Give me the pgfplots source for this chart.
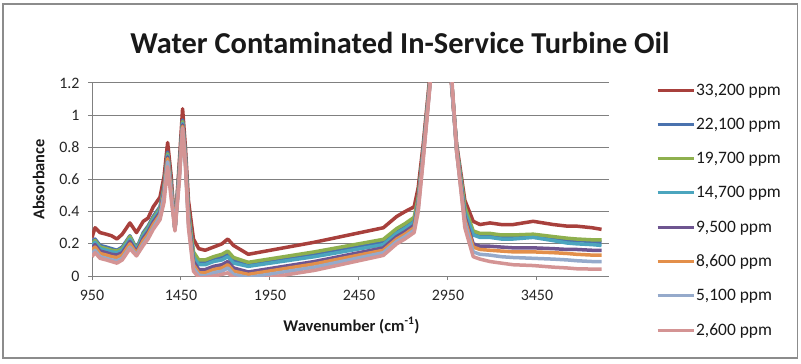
\documentclass[border=0pt]{standalone}
\usepackage{pgfplots}
\pgfplotsset{compat=1.18}
\usepackage{pgfplotstable}
\usepackage{fontspec}
\setmainfont{Carlito}
\definecolor{cR}{HTML}{A8403C}
\definecolor{cB}{HTML}{4A72AE}
\definecolor{cG}{HTML}{8EB04E}
\definecolor{cT}{HTML}{4BA5BE}
\definecolor{cP}{HTML}{6E5590}
\definecolor{cO}{HTML}{E38F4A}
\definecolor{cL}{HTML}{95AACB}
\definecolor{cK}{HTML}{D49494}
\definecolor{frame}{HTML}{8C8C8C}
\pgfplotstableread{
w r b g t p o l k
950 0.24 0.21 0.20 0.19 0.175 0.16 0.14 0.12
967 0.30 0.23 0.22 0.21 0.195 0.18 0.16 0.145
995 0.27 0.19 0.18 0.17 0.155 0.14 0.12 0.11
1030 0.26 0.18 0.17 0.16 0.145 0.13 0.11 0.10
1060 0.25 0.17 0.16 0.15 0.135 0.12 0.10 0.09
1090 0.23 0.16 0.155 0.145 0.13 0.115 0.095 0.08
1120 0.26 0.18 0.17 0.16 0.145 0.13 0.11 0.10
1163 0.33 0.25 0.245 0.23 0.215 0.20 0.18 0.17
1200 0.27 0.17 0.165 0.16 0.15 0.14 0.13 0.125
1238 0.34 0.27 0.26 0.25 0.235 0.22 0.20 0.19
1265 0.36 0.31 0.30 0.29 0.275 0.26 0.24 0.23
1294 0.43 0.37 0.36 0.35 0.335 0.32 0.30 0.29
1332 0.49 0.43 0.42 0.41 0.395 0.38 0.37 0.35
1355 0.62 0.56 0.55 0.54 0.53 0.52 0.50 0.46
1375 0.83 0.77 0.76 0.75 0.74 0.73 0.71 0.68
1395 0.62 0.57 0.56 0.55 0.54 0.53 0.51 0.48
1416 0.29 0.29 0.29 0.29 0.29 0.29 0.285 0.28
1440 0.70 0.66 0.65 0.64 0.63 0.62 0.60 0.58
1459 1.04 0.97 0.96 0.95 0.94 0.93 0.92 0.92
1475 0.80 0.75 0.74 0.73 0.72 0.71 0.70 0.69
1492 0.47 0.40 0.40 0.38 0.36 0.34 0.32 0.30
1520 0.23 0.14 0.15 0.12 0.09 0.07 0.05 0.03
1550 0.17 0.09 0.10 0.07 0.04 0.02 0.005 -0.01
1586 0.16 0.09 0.10 0.07 0.04 0.02 0.0 -0.01
1633 0.18 0.11 0.12 0.09 0.06 0.04 0.02 0.0
1680 0.20 0.12 0.135 0.10 0.07 0.05 0.03 0.01
1713 0.23 0.14 0.155 0.12 0.09 0.07 0.05 0.02
1745 0.19 0.10 0.115 0.08 0.05 0.03 0.01 -0.01
1828 0.135 0.07 0.085 0.06 0.025 0.01 -0.01 -0.03
2200 0.21 0.135 0.15 0.12 0.09 0.075 0.055 0.035
2587 0.30 0.21 0.228 0.195 0.175 0.16 0.145 0.128
2662 0.37 0.28 0.295 0.265 0.245 0.23 0.215 0.20
2708 0.40 0.31 0.325 0.295 0.275 0.26 0.245 0.23
2760 0.43 0.35 0.365 0.335 0.315 0.30 0.285 0.27
2783 0.55 0.48 0.49 0.47 0.45 0.44 0.42 0.40
2811 0.82 0.78 0.78 0.77 0.76 0.75 0.74 0.72
2849 1.25 1.22 1.22 1.21 1.20 1.20 1.19 1.18
2880 2.0 2.0 2.0 2.0 2.0 2.0 2.0 2.0
2920 2.5 2.5 2.5 2.5 2.5 2.5 2.5 2.5
2961 1.3 1.35 1.35 1.35 1.35 1.35 1.35 1.4
2999 0.82 0.80 0.80 0.79 0.78 0.77 0.77 0.78
3045 0.47 0.42 0.43 0.40 0.37 0.35 0.33 0.30
3092 0.34 0.27 0.28 0.255 0.20 0.18 0.15 0.12
3130 0.32 0.25 0.265 0.24 0.185 0.165 0.135 0.105
3186 0.33 0.25 0.265 0.24 0.185 0.16 0.13 0.09
3250 0.32 0.24 0.255 0.23 0.18 0.155 0.12 0.08
3317 0.32 0.24 0.255 0.23 0.175 0.15 0.115 0.07
3429 0.34 0.25 0.26 0.24 0.175 0.15 0.11 0.065
3542 0.32 0.23 0.245 0.22 0.17 0.145 0.105 0.055
3620 0.31 0.22 0.235 0.205 0.165 0.14 0.10 0.05
3673 0.31 0.22 0.23 0.20 0.165 0.135 0.095 0.045
3760 0.30 0.215 0.225 0.195 0.16 0.13 0.09 0.043
3813 0.29 0.21 0.225 0.19 0.16 0.13 0.09 0.043
}\spectra
\begin{document}
\begin{tikzpicture}[x=1bp,y=1bp]
\path[use as bounding box] (0,0) rectangle (801,363);
\fill[white] (0,0) rectangle (801,363);
\draw[frame,line width=1.6bp] (3,5) rectangle (797.5,359);
\node[font=\fontsize{30.5}{34}\selectfont\bfseries,text=black!90] at (400,320) {Water Contaminated In-Service Turbine Oil};
\begin{axis}[
  at={(92bp,87bp)}, anchor=south west,
  scale only axis, width=517bp, height=193bp,
  xmin=950, xmax=3855, ymin=0, ymax=1.2,
  xtick={950,1450,1950,2450,2950,3450},
  ytick={0,0.2,0.4,0.6,0.8,1,1.2},
  axis x line*=bottom, axis y line*=left,
  axis line style={draw=black!50, line width=1bp, -},
  ymajorgrids, grid style={black!50, line width=1bp},
  tick style={black!50, line width=1bp},
  tick align=outside, major tick length=4bp,
  /pgf/number format/assume math mode=true,
  /pgf/number format/1000 sep={},
  ticklabel style={font=\fontsize{16}{18}\selectfont, text=black!85},
  xticklabel style={yshift=-7bp},
  yticklabel style={xshift=-5bp},
  xlabel={\textbf{Wavenumber (cm\textsuperscript{-1})}},
  ylabel={\textbf{Absorbance}},
  label style={font=\fontsize{16.5}{18}\selectfont, text=black!90},
  xlabel style={at={(axis description cs:0.502,0)}, yshift=-38bp, anchor=north},
  ylabel style={at={(axis description cs:0,0.5)}, yshift=44bp},
  clip=true,
  every axis plot/.append style={line width=3.5bp, line join=round},
  legend style={at={(1.085,1.01)}, anchor=north west, draw=none, fill=none,
    font=\fontsize{17.5}{19}\selectfont, row sep=19.3bp,
    nodes={inner sep=1bp, text=black!90}},
  legend cell align=left,
  legend image code/.code={\draw[#1, line width=3bp] (0bp,0bp) -- (36bp,0bp);},
]
\addplot[cR] table[x=w,y=r]{\spectra};
\addlegendentry{33,200 ppm}
\addplot[cB] table[x=w,y=b]{\spectra};
\addlegendentry{22,100 ppm}
\addplot[cG] table[x=w,y=g]{\spectra};
\addlegendentry{19,700 ppm}
\addplot[cT] table[x=w,y=t]{\spectra};
\addlegendentry{14,700 ppm}
\addplot[cP] table[x=w,y=p]{\spectra};
\addlegendentry{9,500 ppm}
\addplot[cO] table[x=w,y=o]{\spectra};
\addlegendentry{8,600 ppm}
\addplot[cL] table[x=w,y=l]{\spectra};
\addlegendentry{5,100 ppm}
\addplot[cK] table[x=w,y=k]{\spectra};
\addlegendentry{2,600 ppm}
\end{axis}
\end{tikzpicture}
\end{document}
